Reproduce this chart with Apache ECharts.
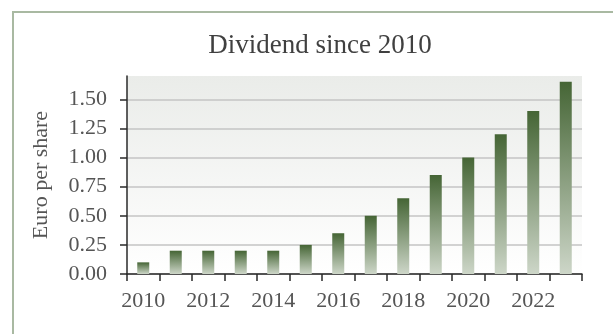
<!DOCTYPE html>
<html><head><meta charset="utf-8">
<script src="https://cdn.jsdelivr.net/npm/echarts@6/dist/echarts.min.js"></script>
<style>html,body{margin:0;padding:0;background:#fff}#c{width:613px;height:334px}</style>
</head><body><div id="c"></div>
<script>
var years = ['2010','2011','2012','2013','2014','2015','2016','2017','2018','2019','2020','2021','2022','2023'];
var dividends = [0.10,0.20,0.20,0.20,0.20,0.25,0.35,0.50,0.65,0.85,1.00,1.20,1.40,1.65];
var yTicks = [0,0.25,0.5,0.75,1.0,1.25,1.5];
var titleText = 'Dividend since 2010';
var yName = 'Euro per share';

var font = '"Liberation Serif", "DejaVu Serif", serif';
var chart = echarts.init(document.getElementById('c'));
chart.setOption({
  animation: false,
  backgroundColor: '#ffffff',
  title: {
    text: titleText, left: 315, top: 27, textAlign: 'center',
    textStyle: {fontFamily: font, fontSize: 27, fontWeight: 'normal', color: '#404040'}
  },
  graphic: [{
    type: 'rect', shape: {x: 13, y: 12, width: 700, height: 400},
    style: {fill: 'none', stroke: '#a9b9a2', lineWidth: 2}, silent: true
  }],
  grid: {
    left: 127, right: 31, top: 76, bottom: 60, show: true, borderWidth: 0,
    backgroundColor: new echarts.graphic.LinearGradient(0,0,0,1,[{offset:0,color:'#eaece9'},{offset:1,color:'#ffffff'}])
  },
  xAxis: {
    type: 'category', data: years, boundaryGap: true,
    axisLine: {lineStyle: {color: '#2a2a2a', width: 1.5}},
    axisTick: {show: true, interval: 0, length: 7, lineStyle: {color: '#2a2a2a', width: 1.5}},
    axisLabel: {interval: 1, margin: 16, fontFamily: font, fontSize: 22, color: '#555555'}
  },
  yAxis: {
    type: 'value', min: 0, max: 1.7, interval: 0.25,
    name: yName, nameLocation: 'middle', nameGap: 75, nameRotate: 90,
    nameTextStyle: {fontFamily: font, fontSize: 22, color: '#555555'},
    axisLine: {show: true, lineStyle: {color: '#2a2a2a', width: 1.5}},
    axisTick: {show: true, length: 7, customValues: yTicks, lineStyle: {color: '#2a2a2a', width: 1.5}},
    axisLabel: {margin: 20, customValues: yTicks, fontFamily: font, fontSize: 22, color: '#555555',
      formatter: function(v){ return v.toFixed(2); }},
    splitLine: {show: true, lineStyle: {color: ['#c4c4c4','#c4c4c4','#c4c4c4','#c4c4c4','#c4c4c4','#c4c4c4','#c4c4c4','rgba(0,0,0,0)'], width: 1.5}}
  },
  series: [{
    type: 'bar', data: dividends, barWidth: 12,
    itemStyle: {color: new echarts.graphic.LinearGradient(0,0,0,1,[{offset:0,color:'#456535'},{offset:1,color:'#cdd6c8'}])}
  }]
});
</script></body></html>
